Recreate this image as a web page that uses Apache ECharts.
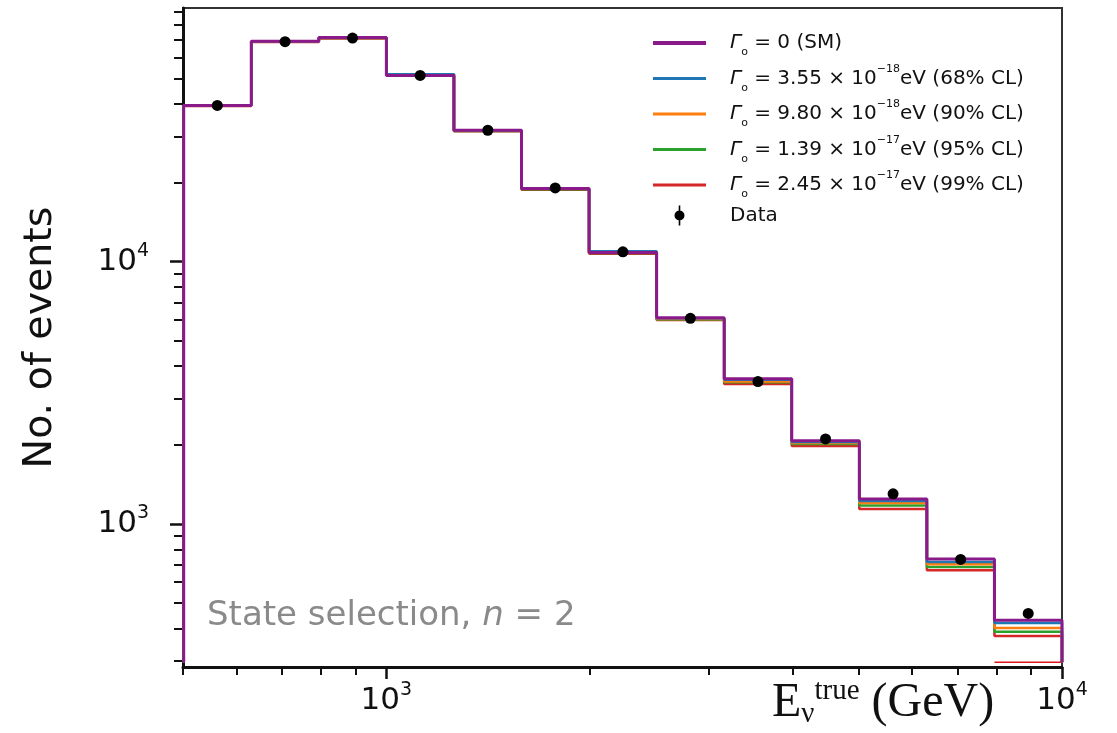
<!DOCTYPE html>
<html>
<head>
<meta charset="utf-8">
<script src="https://cdn.jsdelivr.net/npm/echarts@6/dist/echarts.min.js"></script>
<style>
html,body{margin:0;padding:0;background:#fff;}
#chart{width:1117px;height:733px;}
</style>
</head>
<body>
<div id="chart"></div>
<script>
// ---- data ----
const binEdges = [501.2, 631.0, 794.3, 1000, 1258.9, 1584.9, 1995.3, 2511.9, 3162.3, 3981.1, 5011.9, 6309.6, 7943.3, 10000];
const smCounts   = [39400, 69200, 71500, 51300, 31700, 19000, 10850, 6110, 3575, 2075, 1246, 735, 430];
const cl68Counts = [39400, 69200, 71500, 51800, 31700, 19000, 10950, 6080, 3544, 2056, 1224, 716, 419];
const cl90Counts = [39350, 69100, 71400, 51800, 31600, 18950, 10850, 6050, 3497, 2038, 1203, 703, 401];
const cl95Counts = [39300, 69000, 71300, 51800, 31500, 18900, 10800, 6020, 3467, 2020, 1177, 685, 388];
const cl99Counts = [39200, 68800, 71000, 51300, 31400, 18800, 10720, 6000, 3420, 1985, 1141, 667, 374];
const dataEnergies = [562, 708, 891, 1122, 1413, 1778, 2239, 2818, 3548, 4467, 5623, 7079, 8913];
const dataCounts   = [39400, 69000, 71200, 51300, 31700, 19100, 10900, 6080, 3490, 2110, 1303, 733, 456];
const floorLevel = 297;
const strayRedEdges = [7943.3, 10000];

const xMajorTicks = [1000, 10000];
const xMinorTicks = [500, 600, 700, 800, 900, 2000, 3000, 4000, 5000, 6000, 7000, 8000, 9000];
const yMajorTicks = [1000, 10000];
const yMinorTicks = [300, 400, 500, 600, 700, 800, 900, 2000, 3000, 4000, 5000, 6000, 7000, 8000, 9000,
                     20000, 30000, 40000, 50000, 60000, 70000, 80000, 90000];

const xMin = 500, xMax = 10000, yMin = 285, yMax = 92700;

const legendLabels = {
  'SM': '{g|Γ}{sub|o}{t| = 0 (SM)}',
  '68': '{g|Γ}{sub|o}{t| = 3.55 × 10}{sup|−18}{t|eV (68% CL)}',
  '90': '{g|Γ}{sub|o}{t| = 9.80 × 10}{sup|−18}{t|eV (90% CL)}',
  '95': '{g|Γ}{sub|o}{t| = 1.39 × 10}{sup|−17}{t|eV (95% CL)}',
  '99': '{g|Γ}{sub|o}{t| = 2.45 × 10}{sup|−17}{t|eV (99% CL)}',
  'Data': '{t|Data}'
};

function stepData(counts) {
  const pts = [[binEdges[0], floorLevel]];
  counts.forEach((c, i) => pts.push([binEdges[i], c]));
  pts.push([binEdges[binEdges.length - 1], counts[counts.length - 1]]);
  pts.push([binEdges[binEdges.length - 1], floorLevel]);
  return pts;
}

const FONT = '"DejaVu Sans", "Noto Sans", sans-serif';
const SERIF = '"Liberation Serif", "Times New Roman", serif';
const chart = echarts.init(document.getElementById('chart'), null, {renderer: 'canvas'});

function histSeries(name, counts, color, width, z) {
  return {
    name: name, type: 'line', step: 'end', data: stepData(counts),
    symbol: 'none', showSymbol: false, z: z,
    lineStyle: {color: color, width: width}, itemStyle: {color: color},
    emphasis: {disabled: true}, animation: false
  };
}

const supLabelRich = {
  b: {fontSize: 31, lineHeight: 40, fontFamily: FONT, color: '#111'},
  sup: {fontSize: 19, lineHeight: 20, verticalAlign: 'top', fontFamily: FONT, color: '#111'}
};
function powFmt(v) {
  const e = Math.round(Math.log10(v));
  return '{b|10}{sup|' + e + '}';
}

const LINE_ICON = 'path://M0,0H53V3.2H0Z';
const THICK_ICON = 'path://M0,0H53V4H0Z';

const option = {
  backgroundColor: '#fff',
  animation: false,
  grid: {left: 183, top: 8, right: 55, bottom: 66, show: true, borderColor: '#333', borderWidth: 2, backgroundColor: 'transparent'},
  xAxis: [
    {type: 'log', logBase: 10, min: xMin, max: xMax, position: 'bottom',
     axisLine: {show: true, lineStyle: {color: '#111', width: 3}},
     axisTick: {show: true, length: 12, lineStyle: {color: '#111', width: 2.5}, customValues: xMajorTicks},
     axisLabel: {show: true, margin: 14, customValues: xMajorTicks, formatter: powFmt, rich: supLabelRich},
     splitLine: {show: false}, minorTick: {show: false}, minorSplitLine: {show: false}},
    {type: 'log', logBase: 10, min: xMin, max: xMax, position: 'bottom', offset: 0,
     axisLine: {show: false},
     axisTick: {show: true, length: 8, lineStyle: {color: '#111', width: 2}, customValues: xMinorTicks},
     axisLabel: {show: false}, splitLine: {show: false}}
  ],
  yAxis: [
    {type: 'log', logBase: 10, min: yMin, max: yMax, position: 'left',
     name: 'No. of events', nameLocation: 'middle', nameGap: 122, nameRotate: 90,
     nameTextStyle: {fontSize: 39.5, fontFamily: FONT, color: '#111'},
     axisLine: {show: true, lineStyle: {color: '#111', width: 3}},
     axisTick: {show: true, length: 13, lineStyle: {color: '#111', width: 2.5}, customValues: yMajorTicks},
     axisLabel: {show: true, margin: 34, customValues: yMajorTicks, formatter: powFmt, rich: supLabelRich},
     splitLine: {show: false}, minorTick: {show: false}},
    {type: 'log', logBase: 10, min: yMin, max: yMax, position: 'left', offset: 0,
     axisLine: {show: false},
     axisTick: {show: true, length: 9, lineStyle: {color: '#111', width: 2}, customValues: yMinorTicks},
     axisLabel: {show: false}, splitLine: {show: false}}
  ],
  legend: {
    orient: 'vertical', left: 653, top: 33, padding: 0,
    itemWidth: 53, itemHeight: 20, itemGap: 5.5,
    selectedMode: false,
    data: [
      {name: 'SM', icon: THICK_ICON}, {name: '68', icon: LINE_ICON}, {name: '90', icon: LINE_ICON},
      {name: '95', icon: LINE_ICON}, {name: '99', icon: LINE_ICON},
      {name: 'Data', icon: 'path://M4.2,0H5.8V20H4.2Z M0,10A5,5 0 1,1 10,10A5,5 0 1,1 0,10Z', itemStyle: {color: '#000'}}
    ],
    formatter: function (name) { return legendLabels[name]; },
    textStyle: {
      padding: [0, 0, 0, 19],
      rich: {
        t: {fontSize: 20, lineHeight: 30, fontFamily: FONT, color: '#111'},
        g: {fontSize: 20, lineHeight: 30, fontFamily: FONT, fontStyle: 'italic', color: '#111'},
        sub: {fontSize: 11, lineHeight: 9, verticalAlign: 'bottom', fontFamily: FONT, color: '#111'},
        sup: {fontSize: 11, lineHeight: 20, verticalAlign: 'top', fontFamily: FONT, color: '#111'}
      }
    }
  },
  series: [
    histSeries('99', cl99Counts, '#d62728', 2.5, 3),
    histSeries('95', cl95Counts, '#2ca02c', 2.5, 4),
    histSeries('90', cl90Counts, '#ff7f0e', 2.5, 5),
    histSeries('68', cl68Counts, '#1f77b4', 2.5, 6),
    histSeries('SM', smCounts, '#8a1a8a', 3, 7),
    {name: 'stray', type: 'line', data: strayRedEdges.map(e => [e, floorLevel]), symbol: 'none',
     lineStyle: {color: '#e0161a', width: 1.5}, z: 3, emphasis: {disabled: true}},
    {name: 'Data', type: 'scatter', data: dataEnergies.map((e, i) => [e, dataCounts[i]]),
     symbol: 'circle', symbolSize: 11, itemStyle: {color: '#000', opacity: 1}, z: 10, emphasis: {disabled: true}}
  ],
  graphic: [
    {type: 'text', left: 207, top: 599, z: 100,
     style: {text: '{t|State selection, }{i|n}{t| = 2}',
       rich: {t: {fontSize: 34, fontFamily: FONT, fill: '#8a8a8a'}, i: {fontSize: 34, fontFamily: FONT, fontStyle: 'italic', fill: '#8a8a8a'}}}},
    {type: 'text', left: 772, top: 677, z: 100,
     style: {text: '{e|E}{nu|ν}{tr|true}{e| (GeV)}',
       rich: {
         e: {fontSize: 48, lineHeight: 52, fontFamily: SERIF, fill: '#111'},
         nu: {fontSize: 29, lineHeight: 20, verticalAlign: 'bottom', fontFamily: SERIF, fill: '#111'},
         tr: {fontSize: 29, lineHeight: 36, verticalAlign: 'top', fontFamily: SERIF, fill: '#111'}
       }}}
  ]
};
chart.setOption(option);
</script>
</body>
</html>
